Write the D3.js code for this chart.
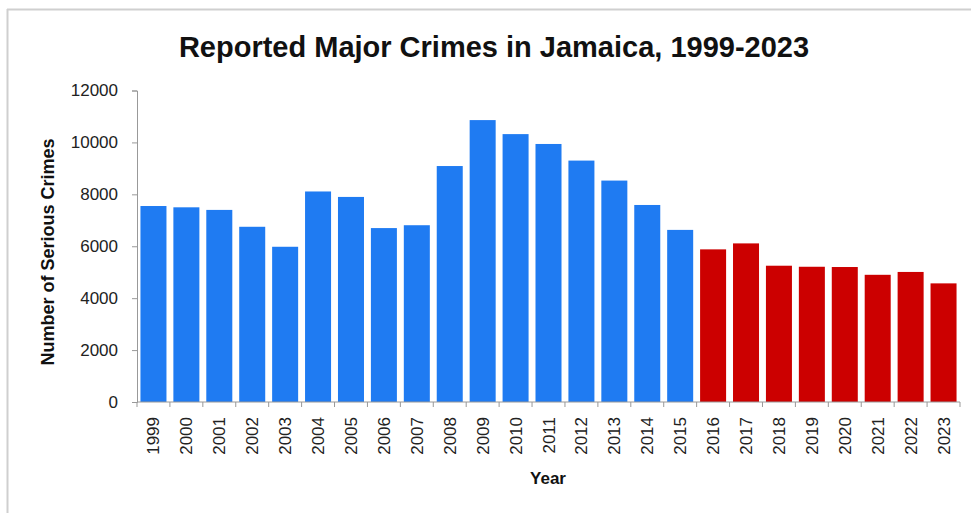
<!DOCTYPE html>
<html>
<head>
<meta charset="utf-8">
<script src="https://cdn.jsdelivr.net/npm/d3@7"></script>
<style>
  body { margin: 0; background: #fff; }
  svg { display: block; font-family: "Liberation Sans", Arial, sans-serif; }
</style>
</head>
<body>
<svg width="971" height="513"></svg>
<script>
// years and reported major crimes
var years = ['1999', '2000', '2001', '2002', '2003', '2004', '2005', '2006', '2007',
  '2008', '2009', '2010', '2011', '2012', '2013', '2014', '2015', '2016', '2017',
  '2018', '2019', '2020', '2021', '2022', '2023']
var crimes = [7550, 7500, 7400, 6750, 5980, 8110, 7900, 6700, 6810,
  9090, 10860, 10320, 9940, 9300, 8530, 7590, 6630, 5880, 6110,
  5250, 5210, 5200, 4900, 5010, 4570]
var y_ticks = [0, 2000, 4000, 6000, 8000, 10000, 12000]
var red_from = '2016'

var svg = d3.select('svg')
var plot_left = 137, plot_right = 960, plot_top = 90.5, plot_bottom = 402

// frame lines (top and left only show in the picture)
svg.append('line').attr('x1', 7).attr('x2', 971).attr('y1', 9.5).attr('y2', 9.5)
  .attr('stroke', '#cfcfcf').attr('stroke-width', 2)
svg.append('line').attr('x1', 7.5).attr('x2', 7.5).attr('y1', 9).attr('y2', 513)
  .attr('stroke', '#cfcfcf').attr('stroke-width', 2)

var x = d3.scaleBand().domain(years).range([plot_left, plot_right]).paddingInner(0.21).paddingOuter(0.105)
var y = d3.scaleLinear().domain([0, 12000]).range([plot_bottom, plot_top])

svg.selectAll('.bar')
  .data(years)
  .enter()
    .append('rect')
    .attr('class', 'bar')
    .attr('x', (d) => x(d))
    .attr('width', x.bandwidth())
    .attr('y', (d, i) => y(crimes[i]))
    .attr('height', (d, i) => y(0) - y(crimes[i]))
    .attr('fill', (d) => +d >= +red_from ? '#cc0000' : '#1f7bf2')

// y axis
var y_axis = svg.append('g')
  .attr('transform', 'translate(' + plot_left + ',0)')
  .call(d3.axisLeft(y).tickValues(y_ticks).tickSize(5).tickPadding(14).tickFormat(d3.format('d')))
y_axis.selectAll('text').attr('font-size', 17).attr('fill', '#222').attr('font-family', null)
y_axis.selectAll('line, path').attr('stroke', '#999')

// x axis, ticks sit between the categories
var x_axis = svg.append('g').attr('transform', 'translate(0,' + plot_bottom + ')')
x_axis.append('line').attr('x1', plot_left).attr('x2', plot_right).attr('stroke', '#999')
x_axis.selectAll('.sep')
  .data(years.concat(['end']))
  .enter()
    .append('line')
    .attr('x1', (d, i) => plot_left + i * x.step())
    .attr('x2', (d, i) => plot_left + i * x.step())
    .attr('y2', 5)
    .attr('stroke', '#999')
x_axis.selectAll('.lab')
  .data(years)
  .enter()
    .append('text')
    .attr('transform', (d) => 'translate(' + (x(d) + x.bandwidth() / 2 + 6) + ',15) rotate(-90)')
    .attr('text-anchor', 'end')
    .attr('font-size', 17)
    .attr('fill', '#222')
    .text((d) => d)

// titles
svg.append('text').attr('x', 494).attr('y', 57).attr('text-anchor', 'middle')
  .attr('font-size', 29).attr('font-weight', 'bold').attr('fill', '#111')
  .text('Reported Major Crimes in Jamaica, 1999-2023')
svg.append('text').attr('x', 548).attr('y', 484).attr('text-anchor', 'middle')
  .attr('font-size', 17).attr('font-weight', 'bold').attr('fill', '#111')
  .text('Year')
svg.append('text').attr('transform', 'translate(54,252) rotate(-90)').attr('text-anchor', 'middle')
  .attr('font-size', 18).attr('font-weight', 'bold').attr('fill', '#111')
  .text('Number of Serious Crimes')
</script>
</body>
</html>
